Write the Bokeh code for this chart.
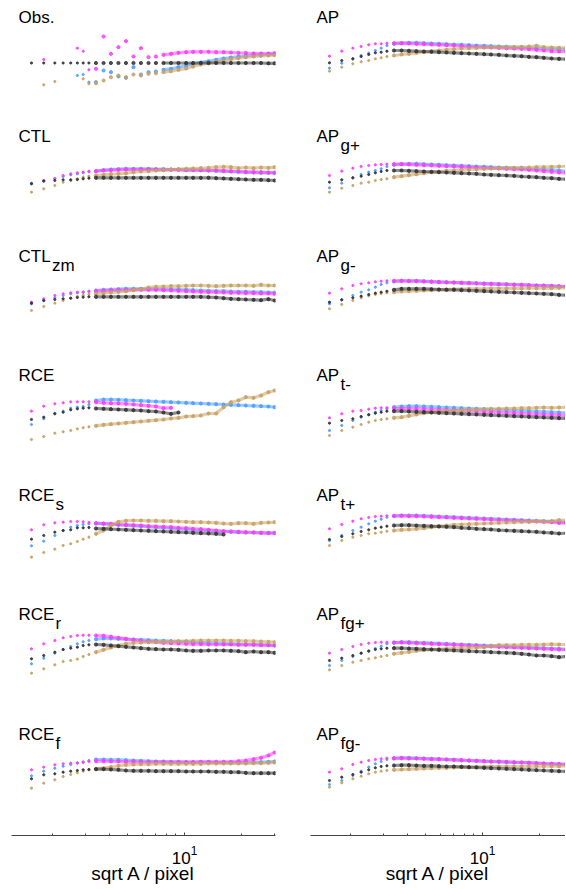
from bokeh.plotting import figure
from bokeh.layouts import gridplot
from bokeh.models import Range1d, Label, FixedTicker, LogTickFormatter
from bokeh.embed import file_html
from bokeh.resources import INLINE

nan = float("nan")

# sqrt A / pixel sample positions (8 sparse small-scale bins, then 25 denser bins)
X = [1.55, 1.80, 2.06, 2.28, 2.50, 2.71, 2.91, 3.12,
     3.40, 3.73, 4.08, 4.47, 4.90, 5.37, 5.88, 6.45, 7.06, 7.74, 8.48, 9.29,
     10.2, 11.1, 12.2, 13.4, 14.7, 16.1, 17.6, 19.3, 21.1, 23.2, 25.4, 27.8, 30.0]

# ---- left column ----
obs_k = [-4, -4, -4, -4, -4, -4, -4, -4,
         -4, -4, -4, -4, -4, -4, -4, -4, -4, -4, -4, -4, -4, -4, -4, -4, -4, -4, -4, -4, -4, -4, -4, -4.3, -4.3]
obs_m = [nan, -0.5, nan, nan, nan, 10.8, 7.8, -10.8,
         -9.8, 22.5, 5.2, 11.8, 17.8, 2.5, 10.8, 1.8, 2.5, 4.2, 5.2, 6.2, 6.8, 7.2, 7.2, 7.2, 6.8, 6.8, 6.5, 6.2, 6.0, 5.5, 5.5, 5.5, 5.8]
obs_b = [nan, nan, nan, nan, nan, -16.5, -15.5, -23.2,
         -23.2, -11.5, -13.2, -17.5, -18.8, -8.2, -15.5, -13.2, -12.5, -10.8, -9.8, -8.2, -6.5, -4.8, -3.5, -2.2, -0.8, 0.5, 1.5, 2.5, 3.2, 3.8, 4.2, 4.5, 4.8]
obs_t = [nan, -25.8, -22.5, nan, nan, nan, -19.8, -24.8,
         -24.2, -21.5, -18.2, -16.5, -18.2, -15.5, -16.5, -14.8, -14.2, -13.2, -12.2, -10.8, -9.5, -7.5, -5.5, -4.2, -2.8, -1.5, -0.2, 0.8, 1.8, 2.5, 3.2, 3.5, 3.8]

ctl_k = [-5.3, -2.7, -2.0, -1.3, -1.3, -1.0, -0.3, 0.3,
         0.7, 0.7, 0.7, 0.7, 0.7, 0.7, 0.7, 0.7, 0.7, 0.7, 0.7, 0.7, 0.7, 0.7, 0.7, 0.7, 0.3, 0.0, -0.3, -0.7, -1.0, -1.3, -1.3, -1.7, -2.0]
ctl_m = [nan, -2.0, 0.0, 3.0, 4.7, 5.7, 6.3, 7.3,
         7.3, 8.0, 8.3, 8.7, 9.0, 9.0, 9.0, 9.0, 9.0, 8.7, 8.7, 8.7, 8.3, 8.3, 8.3, 8.0, 8.0, 7.7, 7.3, 7.0, 6.7, 6.3, 6.3, 6.0, 6.0]
ctl_b = [-4.7, -2.0, -0.3, 2.0, 3.7, 4.7, 5.7, 6.7,
         7.3, 8.3, 9.0, 9.3, 9.7, 9.7, 9.7, 9.7, 9.3, 9.3, 9.0, 9.0, 8.7, 8.7, 8.3, 8.0, 7.7, 7.3, 7.0, 6.7, 6.3, 6.0, 5.7, 5.7, 5.3]
ctl_t = [-13.7, -10.3, -7.0, -3.7, -2.0, -0.3, 1.3, 2.3,
         3.0, 3.7, 4.3, 4.7, 5.3, 6.3, 7.0, 7.3, 8.0, 8.3, 9.0, 9.3, 9.7, 10.0, 10.3, 10.7, 11.3, 11.7, 11.3, 10.3, 11.0, 10.3, 11.0, 10.7, 11.3]

zm_k = [-5.2, -2.5, -1.5, -0.8, -0.2, 0.5, 0.8, 1.2,
        1.2, 1.2, 1.2, 1.2, 1.2, 1.2, 1.2, 1.2, 1.2, 1.2, 1.2, 1.2, 1.2, 1.2, 1.2, 0.8, 0.5, -0.2, -0.8, -1.2, -1.5, -1.8, -2.2, -1.2, -2.5]
zm_m = [-4.2, -0.8, 2.5, 4.2, 5.2, 5.8, 5.8, 6.5,
        6.8, 7.2, 7.5, 7.8, 7.8, 8.2, 8.2, 8.2, 8.2, 7.8, 7.5, 7.2, 6.8, 6.5, 6.2, 5.8, 5.8, 5.5, 5.2, 5.2, 4.8, 4.8, 4.5, 4.5, 4.2]
zm_b = [-5.8, -2.5, 0.2, 2.5, 4.2, 5.2, 5.8, 6.8,
        7.5, 8.2, 8.5, 8.8, 9.2, 9.2, 9.2, 9.2, 9.2, 8.8, 8.8, 8.5, 8.2, 7.8, 7.5, 7.2, 6.8, 6.8, 6.5, 6.2, 6.2, 5.8, 5.8, 5.5, 5.5]
zm_t = [-12.5, -8.5, -5.2, -2.5, -0.2, 1.5, 2.8, 3.8,
        4.2, 4.8, 5.5, 6.2, 6.8, 7.8, 8.8, 10.5, 11.2, 11.5, 11.8, 11.8, 12.2, 12.5, 12.5, 12.2, 11.8, 12.2, 12.5, 12.5, 12.5, 12.2, 13.2, 12.5, 12.5]

rce_k = [-2.0, 0.3, 3.7, 5.3, 7.7, 8.7, 9.3, 9.7,
         9.0, 8.7, 8.3, 8.0, 7.7, 7.3, 7.0, 6.3, 6.0, 5.0, 3.7, 5.0, nan, nan, nan, nan, nan, nan, nan, nan, nan, nan, nan, nan, nan]
rce_m = [6.3, 11.3, 13.7, 14.7, 15.7, 15.7, 15.7, 15.7,
         15.3, 14.7, 14.3, 14.0, 13.7, 13.0, 12.3, 11.7, 11.0, 9.3, 9.7, nan, nan, nan, nan, nan, nan, nan, nan, nan, nan, nan, nan, nan, nan]
rce_b = [-7.0, -1.3, 4.3, 6.3, 9.3, 10.3, 11.0, 13.0,
         17.0, 18.0, 18.0, 17.7, 17.3, 17.0, 16.7, 16.3, 16.0, 15.7, 15.3, 15.0, 14.7, 14.3, 14.0, 13.7, 13.3, 13.0, 12.7, 12.3, 12.0, 11.7, 11.3, 11.0, 10.3]
rce_t = [-22.0, -19.0, -15.7, -14.3, -13.0, -11.3, -10.3, -9.3,
         -8.3, -7.3, -6.7, -6.0, -5.3, -4.7, -4.0, -3.3, -2.7, -2.0, -1.0, -0.3, 1.0, 1.3, 2.0, 4.0, 4.0, 10.3, 15.3, 17.0, 20.3, 19.7, 22.0, 25.3, 27.0]

rs_k = [-2.2, 1.5, 4.8, 6.5, 7.2, 9.2, 9.2, 9.5,
        8.5, 8.2, 7.8, 7.5, 7.2, 6.8, 6.5, 6.2, 5.8, 5.5, 5.2, 4.8, 4.5, 4.2, 3.8, 3.5, 3.2, 2.5, nan, nan, nan, nan, nan, nan, nan]
rs_m = [7.2, 12.2, 14.2, 14.8, 15.5, 15.5, 15.2, 14.5,
        13.8, 13.5, 13.2, 12.5, 12.2, 11.8, 11.5, 10.8, 10.5, 10.2, 9.8, 9.2, 8.8, 8.2, 7.8, 7.2, 6.5, 5.8, 5.5, 5.2, 4.8, 4.5, 4.2, 3.8, 3.8]
rs_b = [-8.8, -4.2, 1.5, 6.5, 9.8, 11.5, 12.5, 13.2,
        13.5, 13.2, 12.8, 12.2, 11.8, 11.2, 10.8, 10.2, 9.8, 9.2, 8.8, 8.2, 7.8, 7.2, 6.8, 6.5, 5.8, 5.5, 5.2, 4.8, 4.5, 4.5, 4.2, 4.2, 4.2]
rs_t = [-20.2, -15.5, -12.2, -8.5, -6.8, -4.5, -2.2, -0.2,
        3.2, 6.5, 11.5, 15.2, 16.2, 16.5, 16.5, 16.2, 16.2, 15.8, 15.8, 15.5, 15.2, 14.8, 14.8, 14.5, 14.2, 13.5, 13.2, 13.8, 13.8, 13.2, 14.2, 14.5, 14.8]

rr_k = [-2.3, 1.0, 4.3, 7.0, 8.3, 9.3, 11.0, 11.7,
        12.0, 11.7, 11.0, 10.3, 9.7, 9.0, 8.3, 7.7, 7.3, 7.0, 7.0, 6.7, 6.0, 5.7, 5.7, 6.0, 6.0, 6.0, 5.7, 5.3, 4.3, 5.0, 4.3, 4.3, 3.7]
rr_m = [7.7, 12.7, 16.0, 18.7, 20.0, 21.0, 21.3, 21.3,
        21.0, 20.7, 19.7, 18.7, 17.7, 16.7, 15.7, 15.0, 14.3, 13.7, 13.3, 13.0, 12.7, 12.3, 12.3, 12.0, 12.0, 12.0, 12.0, 11.7, 11.7, 11.7, 11.3, 11.3, 11.0]
rr_b = [-7.3, -1.7, 3.3, 7.0, 10.0, 12.7, 14.7, 16.0,
        17.3, 18.0, 18.0, 17.7, 17.3, 17.0, 16.7, 16.3, 16.0, 15.7, 15.3, 15.0, 14.7, 14.3, 14.0, 13.7, 13.3, 13.0, 12.7, 12.3, 12.0, 12.0, 11.7, 11.3, 11.0]
rr_t = [-16.7, -12.3, -8.3, -5.0, -4.0, -2.7, 0.0, 2.0,
        4.3, 6.7, 9.0, 11.0, 12.7, 13.7, 14.0, 14.3, 14.7, 14.7, 15.0, 15.3, 15.3, 15.7, 16.0, 16.0, 16.0, 16.0, 15.7, 15.7, 15.3, 15.3, 15.0, 14.7, 14.3]

rf_k = [-2.8, 1.2, 2.2, 3.8, 4.8, 5.5, 6.2, 6.5,
        6.8, 6.8, 6.5, 6.2, 5.5, 5.2, 5.2, 5.2, 4.8, 4.8, 4.8, 4.8, 4.5, 4.5, 4.5, 4.5, 4.2, 4.2, 3.8, 3.8, 3.2, 2.8, 2.8, 2.8, 2.8]
rf_m = [6.2, 8.8, 11.2, 12.2, 12.8, 13.2, 13.5, 14.5,
        14.8, 14.8, 14.5, 14.5, 14.2, 14.2, 13.8, 13.8, 13.8, 13.8, 13.8, 13.8, 13.8, 13.8, 14.2, 14.2, 14.2, 14.2, 14.2, 14.8, 15.5, 16.8, 18.2, 20.5, 23.5]
rf_b = [0.2, 4.8, 7.8, 9.8, 11.5, 12.8, 14.2, 15.5,
        16.5, 16.5, 16.2, 16.2, 15.8, 15.5, 15.2, 14.8, 14.5, 14.5, 14.2, 14.2, 13.8, 13.8, 13.8, 13.8, 13.5, 13.5, 13.5, 13.5, 13.5, 13.8, 13.8, 14.2, 14.5]
rf_t = [-12.2, -7.2, -3.8, -0.5, 1.5, 3.2, 4.8, 6.2,
        7.2, 7.8, 8.8, 10.2, 11.2, 11.5, 11.8, 11.8, 12.2, 12.2, 12.2, 12.2, 12.2, 12.2, 12.2, 12.5, 12.5, 12.5, 12.5, 12.5, 12.5, 12.8, 12.8, 13.2, 13.5]

# ---- right column ----
ap_k = [-3.8, -1.5, 0.2, 2.5, 4.5, 6.2, 6.8, 7.8,
        8.5, 8.5, 8.2, 7.8, 7.5, 7.2, 6.8, 6.5, 6.2, 5.8, 5.5, 5.2, 4.8, 4.5, 4.2, 3.5, 3.2, 2.8, 2.2, 1.8, 1.2, 0.5, 0.2, -0.2, -0.5]
ap_m = [2.8, 7.8, 10.8, 12.5, 14.2, 15.2, 15.2, 15.8,
        15.8, 15.8, 15.5, 15.2, 14.8, 14.5, 14.2, 13.8, 13.5, 12.8, 12.5, 12.2, 11.8, 11.5, 11.2, 10.8, 10.5, 10.2, 9.8, 9.2, 8.5, 7.8, 7.5, 7.2, 7.0]
ap_b = [-9.2, -4.2, 0.2, 3.5, 5.8, 8.5, 10.8, 13.5,
        15.2, 15.8, 16.2, 16.2, 15.8, 15.5, 15.2, 14.8, 14.5, 14.2, 13.8, 13.5, 13.2, 12.8, 12.5, 12.2, 11.8, 11.5, 11.2, 10.8, 10.5, 10.2, 9.8, 9.5, 9.3]
ap_t = [-12.2, -8.2, -4.8, -2.8, -1.5, 0.2, 1.2, 2.5,
        3.5, 4.5, 5.2, 6.2, 6.8, 7.8, 8.5, 9.2, 9.8, 10.5, 10.8, 11.2, 11.5, 11.8, 11.8, 11.8, 11.8, 12.2, 12.5, 13.2, 11.8, 11.5, 11.2, 11.2, 11.2]

gp_k = [-3.7, -1.3, 0.7, 2.3, 4.0, 5.7, 7.0, 8.0,
        8.0, 8.0, 7.7, 7.3, 7.0, 6.7, 6.3, 6.0, 5.7, 5.3, 5.0, 4.7, 4.0, 3.7, 3.3, 3.0, 2.7, 2.0, 1.7, 1.3, 0.7, 0.3, -0.3, -0.7, -1.0]
gp_m = [3.0, 7.3, 10.3, 12.0, 13.0, 13.7, 14.0, 14.3,
        14.3, 14.3, 14.0, 13.7, 13.3, 13.0, 12.7, 12.3, 12.0, 11.7, 11.3, 11.0, 10.7, 10.3, 10.0, 9.7, 9.3, 9.0, 8.7, 8.0, 7.3, 6.7, 6.0, 5.3, 5.0]
gp_b = [-9.3, -4.7, 0.7, 4.0, 6.3, 8.0, 9.7, 12.0,
        13.7, 14.3, 14.7, 14.7, 14.3, 14.0, 13.7, 13.3, 13.0, 12.7, 12.3, 12.0, 11.7, 11.3, 11.0, 10.7, 10.3, 10.0, 9.7, 9.3, 9.0, 8.7, 8.0, 7.3, 7.0]
gp_t = [-13.7, -9.7, -7.0, -4.7, -3.7, -2.0, -1.0, -0.3,
        1.3, 2.3, 3.3, 4.3, 5.3, 6.3, 7.0, 7.7, 8.0, 8.7, 9.0, 9.3, 9.7, 10.0, 10.3, 10.7, 10.7, 11.0, 11.0, 11.3, 11.3, 11.7, 12.0, 12.3, 12.3]

gm_k = [-4.2, -1.8, 0.2, 1.8, 3.5, 4.8, 5.8, 6.8,
        8.2, 9.2, 9.2, 9.2, 9.2, 8.8, 8.5, 8.2, 8.2, 7.8, 7.5, 7.2, 6.8, 6.5, 6.2, 5.8, 5.5, 5.2, 4.8, 4.5, 4.2, 3.8, 3.2, 2.8, 2.8]
gm_m = [4.8, 9.2, 12.5, 14.2, 15.2, 16.2, 16.8, 17.2,
        17.2, 17.2, 16.8, 16.8, 16.5, 16.2, 15.8, 15.5, 15.5, 15.2, 14.8, 14.5, 14.2, 14.2, 13.8, 13.5, 13.2, 13.2, 12.8, 12.5, 12.2, 11.8, 11.5, 11.5, 11.2]
gm_b = [-5.8, -1.8, 2.5, 5.8, 8.2, 10.8, 13.5, 15.2,
        16.5, 17.2, 17.2, 17.2, 16.8, 16.5, 16.2, 15.8, 15.5, 15.2, 15.2, 14.8, 14.5, 14.2, 13.8, 13.8, 13.5, 13.2, 12.8, 12.5, 12.5, 12.2, 11.8, 11.5, 11.5]
gm_t = [-10.8, -6.5, -2.5, 0.2, 2.2, 3.5, 4.5, 5.2,
        5.8, 6.5, 6.8, 7.2, 7.5, 7.8, 8.2, 8.5, 8.8, 8.8, 9.2, 9.2, 9.2, 9.5, 9.5, 9.5, 9.5, 9.5, 9.8, 9.8, 9.8, 9.8, 10.2, 10.2, 10.2]

tm_k = [-5.7, -3.0, -1.3, 1.0, 2.7, 4.3, 5.3, 6.3,
        6.3, 6.3, 6.0, 5.7, 5.3, 5.0, 4.7, 4.3, 4.0, 3.7, 3.3, 3.0, 2.7, 2.3, 2.0, 1.7, 1.3, 1.0, 0.7, 0.3, 0.0, -0.3, -0.7, -1.0, -1.0]
tm_m = [-0.3, 3.7, 6.3, 7.0, 8.3, 9.3, 9.7, 9.7,
        9.0, 9.0, 9.0, 8.7, 8.3, 8.0, 7.7, 7.3, 7.0, 6.7, 6.3, 6.0, 5.7, 5.3, 5.0, 4.7, 4.3, 4.0, 3.7, 3.3, 3.0, 2.7, 2.3, 2.0, 2.0]
tm_b = [-13.0, -8.0, -3.0, 0.3, 3.0, 5.3, 7.0, 8.7,
        10.3, 11.0, 11.3, 11.3, 11.0, 10.7, 10.3, 10.0, 9.7, 9.3, 9.0, 8.7, 8.3, 8.0, 7.7, 7.3, 7.0, 6.7, 6.3, 6.0, 5.7, 5.3, 5.0, 4.7, 4.7]
tm_t = [-18.0, -13.0, -9.7, -7.0, -4.7, -3.0, -2.0, -1.3,
        -0.3, 0.3, 1.7, 3.0, 4.3, 5.3, 6.0, 6.7, 7.0, 7.3, 7.7, 8.0, 8.3, 8.7, 8.7, 9.0, 9.0, 9.3, 9.3, 9.7, 10.0, 9.7, 10.0, 10.3, 10.3]

tp_k = [-2.5, 0.5, 3.2, 5.5, 7.2, 8.8, 9.8, 10.8,
        11.5, 11.8, 11.8, 11.5, 11.2, 10.8, 10.5, 10.2, 9.8, 9.2, 8.8, 8.2, 7.8, 7.5, 6.8, 6.5, 6.2, 5.8, 5.5, 5.2, 4.5, 4.2, 3.5, 3.8, 3.8]
tp_m = [8.2, 12.5, 15.8, 18.2, 19.5, 20.5, 20.8, 21.2,
        21.2, 21.2, 20.8, 20.8, 20.5, 20.2, 19.8, 19.5, 19.2, 18.8, 18.5, 18.2, 17.8, 17.5, 17.2, 16.8, 16.5, 16.2, 15.8, 15.5, 15.2, 14.8, 14.2, 13.8, 13.8]
tp_b = [-3.5, 1.5, 6.5, 9.8, 13.2, 15.8, 17.8, 19.8,
        20.8, 21.5, 21.5, 21.5, 21.2, 20.8, 20.5, 20.2, 19.8, 19.5, 19.2, 18.8, 18.5, 18.2, 17.8, 17.5, 17.2, 16.8, 16.5, 16.2, 15.8, 15.5, 15.2, 14.8, 14.8]
tp_t = [-8.5, -3.5, -0.2, 1.5, 3.2, 3.8, 4.8, 5.8,
        6.5, 7.2, 7.5, 8.2, 8.8, 9.8, 10.8, 11.5, 12.2, 12.5, 12.8, 13.2, 13.5, 13.8, 14.2, 14.5, 14.8, 15.2, 15.2, 15.8, 15.5, 15.8, 16.8, 16.5, 16.5]

fp_k = [-4.0, -1.7, 1.0, 3.3, 5.3, 7.0, 7.7, 8.3,
        8.3, 8.3, 8.0, 7.7, 7.3, 7.0, 6.7, 6.3, 6.0, 5.7, 5.3, 5.0, 4.7, 4.3, 4.0, 3.7, 3.3, 2.7, 2.0, 1.0, 1.0, 0.3, -0.7, 0.0, 0.0]
fp_m = [3.3, 7.0, 10.0, 12.0, 13.3, 14.0, 14.3, 14.3,
        14.0, 14.0, 13.7, 13.3, 13.0, 12.7, 12.3, 12.0, 11.7, 11.3, 11.0, 10.7, 10.3, 10.0, 9.7, 9.3, 9.0, 8.7, 8.3, 8.0, 7.7, 7.3, 7.0, 6.7, 6.7]
fp_b = [-9.0, -4.0, 0.0, 3.3, 5.7, 8.0, 10.3, 12.7,
        13.7, 14.3, 14.3, 14.0, 13.7, 13.3, 13.0, 12.7, 12.3, 12.0, 11.7, 11.3, 11.0, 10.7, 10.3, 10.0, 9.7, 9.3, 9.0, 8.7, 8.3, 8.0, 7.7, 7.3, 7.3]
fp_t = [-13.3, -9.0, -5.7, -4.0, -2.3, -1.3, 0.0, 1.0,
        2.7, 3.7, 4.7, 5.7, 6.3, 7.0, 7.3, 7.7, 8.0, 8.3, 8.7, 9.0, 9.3, 10.7, 11.3, 11.3, 11.3, 11.7, 11.7, 11.7, 12.0, 12.3, 12.0, 12.0, 12.0]

fm_k = [-4.5, -1.2, 1.5, 3.8, 6.2, 8.2, 9.5, 10.2,
        10.5, 10.8, 10.8, 10.5, 10.2, 10.2, 9.8, 9.5, 9.5, 9.2, 8.8, 8.5, 8.2, 7.8, 7.5, 7.2, 6.8, 6.5, 6.2, 5.8, 5.5, 5.2, 4.8, 4.5, 4.5]
fm_m = [3.8, 7.2, 11.5, 13.8, 15.5, 16.5, 17.2, 17.8,
        17.8, 17.8, 17.5, 17.5, 17.2, 16.8, 16.8, 16.5, 16.2, 15.8, 15.5, 15.2, 14.8, 14.5, 14.5, 14.2, 13.8, 13.5, 13.2, 12.8, 12.5, 12.2, 11.8, 11.5, 11.5]
fm_b = [-8.5, -4.5, 0.5, 4.8, 8.8, 12.2, 14.5, 16.5,
        17.5, 18.2, 18.2, 17.8, 17.5, 17.2, 16.8, 16.5, 16.2, 15.8, 15.5, 15.2, 14.8, 14.5, 14.2, 13.8, 13.5, 13.5, 13.2, 12.8, 12.5, 12.2, 11.8, 11.8, 11.8]
fm_t = [-11.2, -6.8, -2.8, -0.2, 2.2, 3.8, 4.8, 5.5,
        6.2, 6.5, 6.8, 7.2, 7.5, 7.8, 8.2, 8.2, 8.5, 8.8, 8.8, 9.2, 9.2, 9.5, 9.5, 9.5, 9.5, 9.5, 9.5, 9.8, 9.8, 9.8, 9.8, 10.2, 10.2]

LEFT = [("Obs.", "", obs_k, obs_m, obs_b, obs_t),
        ("CTL", "", ctl_k, ctl_m, ctl_b, ctl_t),
        ("CTL", "zm", zm_k, zm_m, zm_b, zm_t),
        ("RCE", "", rce_k, rce_m, rce_b, rce_t),
        ("RCE", "s", rs_k, rs_m, rs_b, rs_t),
        ("RCE", "r", rr_k, rr_m, rr_b, rr_t),
        ("RCE", "f", rf_k, rf_m, rf_b, rf_t)]
RIGHT = [("AP", "", ap_k, ap_m, ap_b, ap_t),
         ("AP", "g+", gp_k, gp_m, gp_b, gp_t),
         ("AP", "g-", gm_k, gm_m, gm_b, gm_t),
         ("AP", "t-", tm_k, tm_m, tm_b, tm_t),
         ("AP", "t+", tp_k, tp_m, tp_b, tp_t),
         ("AP", "fg+", fp_k, fp_m, fp_b, fp_t),
         ("AP", "fg-", fm_k, fm_m, fm_b, fm_t)]

X_LABEL = "sqrt A / pixel"

for panel in LEFT + RIGHT:
    for arr in panel[2:]:
        assert len(arr) == len(X), (panel[0], panel[1], len(arr))

BLACK = "#333333"
MAGENTA = "#ff3cff"
BLUE = "#4d9dff"
TAN = "#c8a062"
FONT = "Liberation Sans"

ROW_H = [118, 120, 119, 120, 119, 120, 119]
TOP_CUT = [1.5, 0, 0.5, 0, 0.5, 0, 0.5]
MAIN_W = {"Obs.": 36, "CTL": 33.5, "RCE": 37, "AP": 24}
BOTTOM_EXTRA = 53


def make_panel(k, col, panel):
    main, sub, kk, mm, bb, tt = panel
    bottom = (k == 6)
    h = ROW_H[k]
    y_end = 60 - TOP_CUT[k]
    if col == 0:
        xr = Range1d(1.2151, 30.30)
        w, bl, br = 292, 11, 17
    else:
        xr = Range1d(1.2300, 27.49)
        w, bl, br = 273, 18, 0
    p = figure(width=w, height=h + (BOTTOM_EXTRA if bottom else 0),
               x_axis_type="log", x_range=xr,
               y_range=Range1d(y_end - h, y_end),
               x_axis_location="below" if bottom else None,
               y_axis_location=None,
               output_backend="svg", toolbar_location=None, title=None,
               min_border_left=bl, min_border_right=br, min_border_top=0,
               min_border_bottom=BOTTOM_EXTRA if bottom else 0)
    p.outline_line_color = None
    p.xgrid.visible = False
    p.ygrid.visible = False
    p.background_fill_color = "white"
    p.border_fill_color = "white"

    start = 17 if main == "Obs." else 8
    for vals, color in [(bb, BLUE), (mm, MAGENTA), (tt, TAN), (kk, BLACK)]:
        p.line(X[start:], vals[start:], line_color=color, line_width=3.2, line_alpha=0.55)
        p.scatter(X[:8], vals[:8], size=2.2, color=color, alpha=0.9)
        p.scatter(X[8:], vals[8:], size=3.2, color=color, alpha=0.85)

    tx = 7 if col == 0 else 6
    ty = h - (18 - TOP_CUT[k])
    p.add_layout(Label(x=tx, y=ty, x_units="screen", y_units="screen", text=main,
                       text_font=FONT, text_font_size="17px", text_color="black",
                       text_baseline="alphabetic"))
    if sub:
        p.add_layout(Label(x=tx + MAIN_W[main], y=ty - 9, x_units="screen", y_units="screen",
                           text=sub, text_font=FONT, text_font_size="17px",
                           text_color="black", text_baseline="alphabetic"))

    if bottom:
        ax = p.xaxis[0]
        ax.ticker = FixedTicker(ticks=[10], minor_ticks=[2, 3, 4, 5, 6, 7, 8, 9, 20, 30])
        ax.formatter = LogTickFormatter()
        ax.major_label_text_font = FONT
        ax.major_label_text_font_size = "17px"
        ax.major_label_text_color = "black"
        ax.major_label_standoff = 10
        ax.axis_label = X_LABEL
        ax.axis_label_text_font = FONT
        ax.axis_label_text_font_size = "19px"
        ax.axis_label_text_font_style = "normal"
        ax.axis_label_text_color = "black"
        ax.axis_label_standoff = -4
        ax.axis_line_color = "#444444"
        ax.major_tick_line_color = "#444444"
        ax.minor_tick_line_color = "#444444"
        ax.major_tick_in = 3
        ax.major_tick_out = 0
        ax.minor_tick_in = 2
        ax.minor_tick_out = 0
    return p


rows = []
for k in range(7):
    rows.append([make_panel(k, 0, LEFT[k]), make_panel(k, 1, RIGHT[k])])

grid = gridplot(rows, toolbar_location=None)

with open("out.html", "w") as f:
    f.write(file_html(grid, INLINE, title="scaling panels"))
